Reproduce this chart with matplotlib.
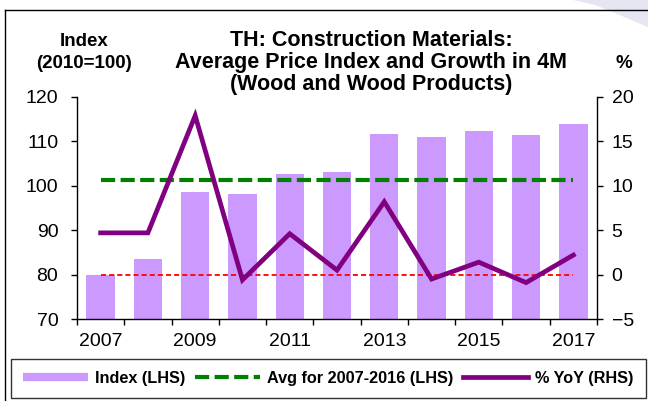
import matplotlib
matplotlib.use("Agg")
import matplotlib.pyplot as plt
from matplotlib.patches import Polygon
from matplotlib.lines import Line2D
import numpy as np

plt.rcParams['font.family'] = ['Liberation Sans', 'DejaVu Sans']

years = ['2007', '2008', '2009', '2010', '2011', '2012', '2013', '2014', '2015', '2016', '2017']
index_vals = [79.8, 83.5, 98.7, 98.1, 102.6, 103.2, 111.7, 110.9, 112.4, 111.5, 113.9]
avg_2007_2016 = 101.2
yoy_vals = [4.7, 4.7, 17.9, -0.6, 4.6, 0.5, 8.2, -0.5, 1.4, -0.9, 2.2]
tick_years = ['2007', '2009', '2011', '2013', '2015', '2017']
title = "TH: Construction Materials:\nAverage Price Index and Growth in 4M\n(Wood and Wood Products)"

W, H = 648, 401
fig = plt.figure(figsize=(W/100, H/100), dpi=100)

def fx(px): return px / W
def fy(py): return 1 - py / H

# decoration: outer frame and corner blob
fig.patches.append(Polygon([(fx(573), fy(0)), (fx(650), fy(0)), (fx(650), fy(28)),
                            (fx(615), fy(13)), (fx(595), fy(5))],
                           closed=True, transform=fig.transFigure, facecolor='#E6E6F2',
                           edgecolor='none', zorder=0))
fig.add_artist(Line2D([fx(4.5), fx(4.5)], [fy(9.5), -0.05], transform=fig.transFigure,
                      color='black', lw=1.0))
fig.add_artist(Line2D([fx(4.5), 1.05], [fy(9.5), fy(9.5)], transform=fig.transFigure,
                      color='black', lw=1.0))

ax = fig.add_axes([fx(77), fy(319), fx(597) - fx(77), fy(97) - fy(319)])
ax2 = ax.twinx()

x = np.arange(len(years))
bars = ax.bar(x, index_vals, width=0.6, color='#CC99FF', zorder=2, label='Index (LHS)')
avg_line, = ax.plot([x[0], x[-1]], [avg_2007_2016, avg_2007_2016], color='#008000', lw=3.0,
                    dashes=(3.4, 1.3), zorder=3, label='Avg for 2007-2016 (LHS)')
ax2.plot([x[0], x[-1]], [0, 0], color='#FF0000', lw=1.3, dashes=(2.8, 1.7), zorder=3)
yoy_line, = ax2.plot(x, yoy_vals, color='#800080', lw=3.4, zorder=4, label='% YoY (RHS)',
                     solid_joinstyle='miter')

ax.set_xlim(-0.5, len(years) - 0.5)
ax.set_ylim(70, 120)
ax.set_yticks(np.arange(70, 121, 10))
ax2.set_ylim(-5, 20)
ax2.set_yticks(np.arange(-5, 21, 5))

ax.set_xticks(np.arange(-0.5, len(years), 1.0))
ax.set_xticklabels([])
ax.set_xticks(x[::2], minor=True)
ax.set_xticklabels(tick_years, minor=True)
ax.tick_params(axis='x', which='major', direction='out', length=4.5, width=1)
ax.tick_params(axis='x', which='minor', length=0, pad=10, labelsize=14)
ax.tick_params(axis='y', direction='out', length=4.5, width=1, labelsize=14, pad=9)
ax2.tick_params(axis='y', direction='out', length=4.5, width=1, labelsize=14, pad=6)

for a in (ax, ax2):
    a.spines['top'].set_visible(False)
    for s in a.spines.values():
        s.set_linewidth(1.0)
ax2.spines['left'].set_visible(False)
ax2.spines['bottom'].set_visible(False)
ax.spines['right'].set_visible(False)
ax.set_zorder(ax2.get_zorder() - 1)
ax2.patch.set_visible(False)
ax.patch.set_visible(False)

fig.text(fx(371), fy(30), title, ha='center', va='top', fontsize=15.5, fontweight='bold',
         linespacing=1.07)
fig.text(fx(84), fy(33), "Index\n(2010=100)", ha='center', va='top', fontsize=13.5,
         fontweight='bold', linespacing=1.42)
fig.text(fx(624), fy(64), "%", ha='center', va='center', fontsize=13.5, fontweight='bold')

bar_proxy = Line2D([], [], color='#CC99FF', lw=6, solid_capstyle='butt')
leg = fig.legend([bar_proxy, avg_line, yoy_line],
                 ['Index (LHS)', 'Avg for 2007-2016 (LHS)', '% YoY (RHS)'],
                 loc='lower left', bbox_to_anchor=(fx(10.5), fy(398), fx(646) - fx(10.5), fy(358) - fy(398)),
                 mode='expand', ncol=3, fancybox=False, frameon=True, handlelength=4.0,
                 handletextpad=0.45, columnspacing=0.8, borderaxespad=0, borderpad=0.75,
                 prop={'weight': 'bold', 'size': 11.7})
leg.get_frame().set_edgecolor('black')
leg.get_frame().set_linewidth(1.0)

fig.savefig('out.png', dpi=100)
